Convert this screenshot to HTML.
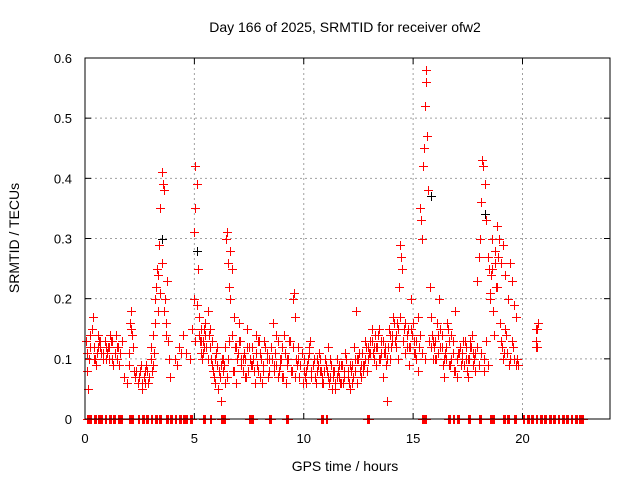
<!DOCTYPE html>
<html><head><meta charset="utf-8"><style>
body{margin:0;background:#fff}
svg{display:block;font-family:"Liberation Sans",sans-serif}
</style></head><body>
<svg id="chart" width="640" height="480">
<text x="345" y="32" text-anchor="middle" font-size="14">Day 166 of 2025, SRMTID for receiver ofw2</text>
<text x="345" y="471" text-anchor="middle" font-size="14">GPS time / hours</text>
<text transform="translate(19,238) rotate(-90)" text-anchor="middle" font-size="14">SRMTID / TECUs</text>
<g id="grid"></g>
<g id="ticks"></g>
<g id="black"></g>
<g id="red"></g>
<rect x="85" y="58" width="525" height="361" fill="none" stroke="#000" stroke-width="1"/>
</svg>
<script>
const xTicks=[0,5,10,15,20];
const yTicks=[0,0.1,0.2,0.3,0.4,0.5,0.6];
const yTickLabels=["0","0.1","0.2","0.3","0.4","0.5","0.6"];
const redT=[0.05,0.1,0.15,0.2,0.3,0.35,0.4,0.5,0.55,0.6,0.7,0.8,0.9,1.0,1.05,1.1,1.2,1.3,1.4,1.5,1.6,1.7,1.8,1.9,2.0,2.05,2.1,2.15,2.2,2.3,2.4,2.5,2.6,2.7,2.8,2.9,3.0,3.05,3.1,3.2,3.25,3.3,3.35,3.4,3.45,3.5,3.55,3.6,3.65,3.7,3.75,3.8,3.9,4.1,4.3,4.5,4.8,4.9,5.0,5.0,5.05,5.05,5.1,5.15,5.2,5.3,5.4,5.5,5.6,5.7,5.8,5.9,6.0,6.1,6.2,6.3,6.4,6.45,6.5,6.55,6.6,6.65,6.7,6.8,6.9,7.0,7.1,7.2,7.3,7.4,7.5,7.6,7.7,7.8,7.9,8.0,8.1,8.2,8.3,8.4,8.5,8.6,8.7,8.8,8.9,9.0,9.1,9.2,9.3,9.4,9.5,9.55,9.6,9.7,9.8,9.9,10,10.1,10.2,10.3,10.4,10.5,10.6,10.7,10.8,10.9,11,11.1,11.2,11.3,11.4,11.5,11.6,11.7,11.8,11.9,12,12.1,12.2,12.3,12.4,12.5,12.6,12.7,12.8,12.9,13,13.1,13.2,13.3,13.4,13.5,13.6,13.7,13.8,13.9,14,14.1,14.2,14.3,14.35,14.4,14.45,14.5,14.6,14.7,14.8,14.9,15,15.1,15.2,15.3,15.35,15.4,15.45,15.5,15.55,15.6,15.6,15.65,15.7,15.75,15.8,15.9,16,16.1,16.2,16.3,16.4,16.5,16.6,16.7,16.8,16.9,17,17.1,17.2,17.3,17.4,17.5,17.6,17.7,17.8,17.9,18,18.05,18.1,18.15,18.2,18.3,18.35,18.4,18.45,18.5,18.6,18.7,18.8,18.9,19,19.1,19.2,19.3,19.4,19.5,19.6,19.7,20.6,20.65,20.7,20.6,
0.25,0.45,0.65,0.75,0.95,1.15,1.25,1.45,1.55,2.25,2.45,2.55,2.75,2.85,3.15,4.2,4.6,5.25,5.35,5.45,5.55,5.65,5.75,5.85,5.95,6.05,6.15,6.25,6.35,6.75,6.85,6.95,7.05,7.15,7.25,7.35,7.45,7.55,7.65,7.75,7.85,7.95,8.05,8.15,8.25,8.35,8.55,8.65,8.75,8.85,8.95,9.05,9.15,9.25,9.35,9.45,9.65,9.75,9.85,9.95,10.05,10.15,10.25,10.35,10.45,10.55,10.65,10.75,10.85,10.95,11.05,11.15,11.25,11.35,11.45,11.55,11.65,11.75,11.85,11.95,12.05,12.15,12.25,12.35,12.45,12.55,12.65,12.75,12.85,12.95,13.05,13.15,13.25,13.35,13.45,13.55,13.65,13.75,13.85,13.95,14.05,14.15,14.25,14.55,14.65,14.75,14.85,14.95,15.05,15.15,15.25,15.85,15.95,16.05,16.15,16.25,16.35,16.45,16.55,16.65,16.75,16.85,17.05,17.15,17.25,17.35,17.45,17.55,17.65,17.75,17.85,18.25,18.55,18.65,18.75,18.85,18.95,19.05,19.15,19.25,19.45,19.55,19.75,19.8,
0.08,0.22,0.42,0.58,0.68,0.82,0.98,1.08,1.22,1.38,1.48,2.02,2.12,2.32,2.48,2.62,2.72,2.92,3.02,3.12,3.22,3.32,3.42,3.52,3.62,3.72,3.82,4.4,5.02,5.12,5.18,5.22,5.28,5.32,5.38,5.42,5.48,5.62,5.72,5.82,5.92,6.02,6.12,6.22,6.32,6.42,6.48,6.52,6.58,6.62,6.72,6.82,6.92,7.02,7.12,7.22,7.32,7.42,7.62,7.72,7.82,7.92,8.02,8.12,8.22,8.32,8.42,8.52,8.62,8.72,8.82,8.92,9.02,9.12,9.22,9.32,9.42,9.52,9.62,9.72,9.82,9.92,10.02,10.12,10.22,10.32,10.42,10.52,10.62,10.72,10.82,10.92,11.02,11.12,11.22,11.32,11.42,11.52,11.62,11.72,11.82,11.92,12.02,12.12,12.22,12.32,12.42,12.52,12.62,12.72,12.82,12.92,13.02,13.12,13.22,13.32,13.42,13.52,13.62,13.72,13.82,13.92,14.02,14.12,14.22,14.32,14.42,14.52,14.62,14.72,14.82,14.92,15.02,15.12,15.22,15.32,15.42,15.52,15.72,15.82,15.92,16.02,16.12,16.22,16.32,16.42,16.52,16.62,16.72,16.82,16.92,17.02,17.12,17.22,17.32,17.42,17.52,17.62,17.72,17.82,17.92,18.02,18.12,18.22,18.32,18.42,18.52,18.62,18.72,18.82,18.92,19.02,19.12,19.22,19.32,19.42,19.52,19.62,19.72,20.62,20.68];
const redV=[0.13,0.08,0.05,0.1,0.15,0.17,0.12,0.09,0.11,0.14,0.12,0.1,0.13,0.11,0.12,0.1,0.13,0.09,0.14,0.12,0.11,0.13,0.07,0.06,0.09,0.16,0.18,0.14,0.12,0.07,0.06,0.08,0.05,0.07,0.09,0.06,0.12,0.08,0.14,0.2,0.22,0.25,0.18,0.29,0.35,0.41,0.39,0.38,0.2,0.16,0.23,0.13,0.07,0.1,0.12,0.14,0.1,0.15,0.2,0.31,0.35,0.42,0.39,0.25,0.17,0.13,0.11,0.16,0.18,0.12,0.09,0.07,0.11,0.05,0.03,0.08,0.12,0.3,0.31,0.26,0.22,0.2,0.14,0.08,0.06,0.11,0.13,0.1,0.07,0.15,0.12,0.09,0.1,0.14,0.08,0.11,0.06,0.13,0.1,0.08,0.12,0.16,0.11,0.07,0.09,0.12,0.14,0.06,0.1,0.08,0.2,0.21,0.17,0.09,0.07,0.11,0.08,0.06,0.1,0.13,0.09,0.07,0.1,0.11,0.08,0.06,0.09,0.12,0.07,0.05,0.08,0.1,0.07,0.09,0.06,0.11,0.08,0.05,0.09,0.12,0.18,0.1,0.07,0.09,0.13,0.08,0.11,0.15,0.12,0.09,0.14,0.1,0.07,0.11,0.03,0.15,0.12,0.17,0.14,0.1,0.22,0.29,0.27,0.25,0.15,0.12,0.09,0.2,0.16,0.11,0.08,0.35,0.33,0.3,0.42,0.45,0.52,0.58,0.56,0.47,0.38,0.22,0.17,0.13,0.1,0.16,0.2,0.12,0.07,0.1,0.15,0.09,0.13,0.18,0.07,0.11,0.09,0.13,0.1,0.07,0.12,0.14,0.1,0.23,0.27,0.3,0.36,0.43,0.42,0.39,0.33,0.27,0.25,0.2,0.3,0.14,0.22,0.27,0.13,0.1,0.15,0.11,0.09,0.13,0.1,0.09,0.13,0.15,0.16,0.12,
0.12,0.1,0.13,0.11,0.12,0.14,0.1,0.12,0.09,0.08,0.07,0.09,0.06,0.08,0.11,0.09,0.11,0.13,0.1,0.15,0.12,0.14,0.1,0.08,0.06,0.09,0.07,0.1,0.09,0.08,0.12,0.1,0.13,0.09,0.11,0.07,0.08,0.1,0.12,0.06,0.09,0.13,0.1,0.08,0.12,0.07,0.1,0.09,0.14,0.08,0.1,0.07,0.11,0.09,0.13,0.08,0.1,0.12,0.09,0.06,0.07,0.09,0.11,0.08,0.1,0.06,0.09,0.08,0.07,0.1,0.08,0.06,0.09,0.07,0.05,0.08,0.06,0.09,0.07,0.1,0.06,0.08,0.07,0.1,0.06,0.08,0.11,0.09,0.12,0.1,0.13,0.11,0.14,0.12,0.1,0.13,0.11,0.09,0.12,0.1,0.14,0.13,0.16,0.13,0.11,0.15,0.12,0.14,0.13,0.1,0.12,0.14,0.12,0.1,0.14,0.12,0.09,0.11,0.16,0.13,0.1,0.08,0.11,0.12,0.1,0.13,0.08,0.1,0.12,0.09,0.11,0.08,0.24,0.18,0.26,0.22,0.16,0.12,0.11,0.14,0.1,0.12,0.1,0.09,
0.11,0.14,0.1,0.12,0.13,0.11,0.1,0.12,0.13,0.11,0.1,0.11,0.15,0.08,0.07,0.06,0.08,0.07,0.1,0.09,0.16,0.24,0.21,0.26,0.18,0.14,0.1,0.11,0.13,0.19,0.25,0.14,0.15,0.11,0.13,0.12,0.14,0.1,0.15,0.13,0.1,0.12,0.08,0.09,0.1,0.06,0.07,0.1,0.13,0.28,0.25,0.17,0.12,0.16,0.1,0.08,0.1,0.12,0.09,0.08,0.11,0.13,0.07,0.09,0.12,0.11,0.1,0.12,0.08,0.09,0.13,0.1,0.07,0.11,0.1,0.13,0.08,0.12,0.07,0.1,0.09,0.11,0.1,0.08,0.12,0.07,0.09,0.07,0.08,0.1,0.06,0.08,0.09,0.07,0.1,0.08,0.06,0.07,0.09,0.06,0.08,0.1,0.07,0.09,0.06,0.08,0.1,0.11,0.09,0.08,0.1,0.12,0.11,0.13,0.1,0.12,0.15,0.11,0.13,0.12,0.1,0.14,0.13,0.16,0.12,0.15,0.17,0.13,0.16,0.14,0.12,0.15,0.11,0.13,0.17,0.14,0.11,0.1,0.13,0.12,0.1,0.13,0.11,0.15,0.14,0.1,0.12,0.09,0.14,0.11,0.08,0.1,0.12,0.11,0.09,0.12,0.1,0.13,0.11,0.08,0.12,0.09,0.11,0.1,0.13,0.09,0.21,0.25,0.28,0.32,0.3,0.26,0.29,0.24,0.2,0.26,0.23,0.19,0.17,0.15,0.12,0.14,0.11,0.1,0.12,0.1,0.11,0.14,0.14];
const blackT=[2.1,3.5,5.1,15.7,15.8,18.3];
const blackV=[0.18,0.3,0.28,0.38,0.37,0.34];
const zeroT=[0.1,0.2,0.4,0.6,0.7,0.9,1.1,1.3,1.5,1.6,2.0,2.1,2.4,2.6,2.8,3.0,3.2,3.4,3.7,3.9,4.1,4.3,4.5,4.6,4.8,5.4,5.7,6.2,6.3,7.5,7.6,8.4,9.2,10.8,11.0,12.9,15.4,15.5,16.6,16.8,17.0,17.5,18.0,18.5,18.6,19.1,19.3,19.6,20.0,20.2,20.4,20.6,20.8,21.0,21.2,21.4,21.6,21.8,22.0,22.2,22.4,22.6,22.7];
const X0=85,X1=610,Y0=419,Y1=58,XMAX=24,YMAX=0.6;
function xs(t){return X0+(X1-X0)*t/XMAX;}
function ys(v){return Y0-(Y0-Y1)*v/YMAX;}
const NS="http://www.w3.org/2000/svg";
const grid=document.getElementById('grid'),ticks=document.getElementById('ticks');
xTicks.forEach(t=>{
  const x=xs(t);
  if(t>0){const l=document.createElementNS(NS,'line');
  l.setAttribute('x1',x);l.setAttribute('x2',x);l.setAttribute('y1',Y1);l.setAttribute('y2',Y0);
  l.setAttribute('stroke','#a0a0a0');l.setAttribute('stroke-dasharray','2,3');
  
  
  grid.appendChild(l);}
  const tx=document.createElementNS(NS,'text');
  tx.setAttribute('x',x);tx.setAttribute('y',Y0+24);tx.setAttribute('text-anchor','middle');tx.setAttribute('font-size','13');
  tx.textContent=String(t);
  
  
  ticks.appendChild(tx);
  [[Y0,Y0-6],[Y1,Y1+6]].forEach(p=>{const m=document.createElementNS(NS,'line');
  m.setAttribute('x1',x);m.setAttribute('x2',x);m.setAttribute('y1',p[0]);m.setAttribute('y2',p[1]);m.setAttribute('stroke','#000');
  
  
  ticks.appendChild(m);});
});
yTicks.forEach((v,i)=>{
  const y=ys(v);
  if(v>0&&v<YMAX){const l=document.createElementNS(NS,'line');
  l.setAttribute('x1',X0);l.setAttribute('x2',X1);l.setAttribute('y1',y);l.setAttribute('y2',y);
  l.setAttribute('stroke','#a0a0a0');l.setAttribute('stroke-dasharray','2,3');
  
  
  grid.appendChild(l);}
  const tx=document.createElementNS(NS,'text');
  tx.setAttribute('x',X0-13);tx.setAttribute('y',y+5);tx.setAttribute('text-anchor','end');tx.setAttribute('font-size','13');
  tx.textContent=yTickLabels[i];
  
  
  ticks.appendChild(tx);
  [[X0,X0+6],[X1,X1-6]].forEach(p=>{const m=document.createElementNS(NS,'line');
  m.setAttribute('y1',y);m.setAttribute('y2',y);m.setAttribute('x1',p[0]);m.setAttribute('x2',p[1]);m.setAttribute('stroke','#000');
  
  
  ticks.appendChild(m);});
});
function plus(g,t,v,color){
  const x=Math.round(xs(t))+0.5,y=Math.round(ys(v))+0.5;
  const p=document.createElementNS(NS,'path');
  p.setAttribute('d',`M${x-4.5},${y}H${x+4.5}M${x},${y-4.5}V${y+4.5}`);
  p.setAttribute('stroke',color);p.setAttribute('stroke-width','1.4');
  p.setAttribute('shape-rendering','crispEdges');
  
  
  g.appendChild(p);
}
const bg=document.getElementById('black'),rg=document.getElementById('red');
blackT.forEach((t,i)=>plus(bg,t,blackV[i],'#000'));
redT.forEach((t,i)=>plus(rg,t,redV[i],'#f00'));
zeroT.forEach(t=>{plus(rg,t,0,'#f00');plus(rg,t+0.04,0,'#f00');plus(rg,t+0.08,0,'#f00');});
</script>
</body></html>
